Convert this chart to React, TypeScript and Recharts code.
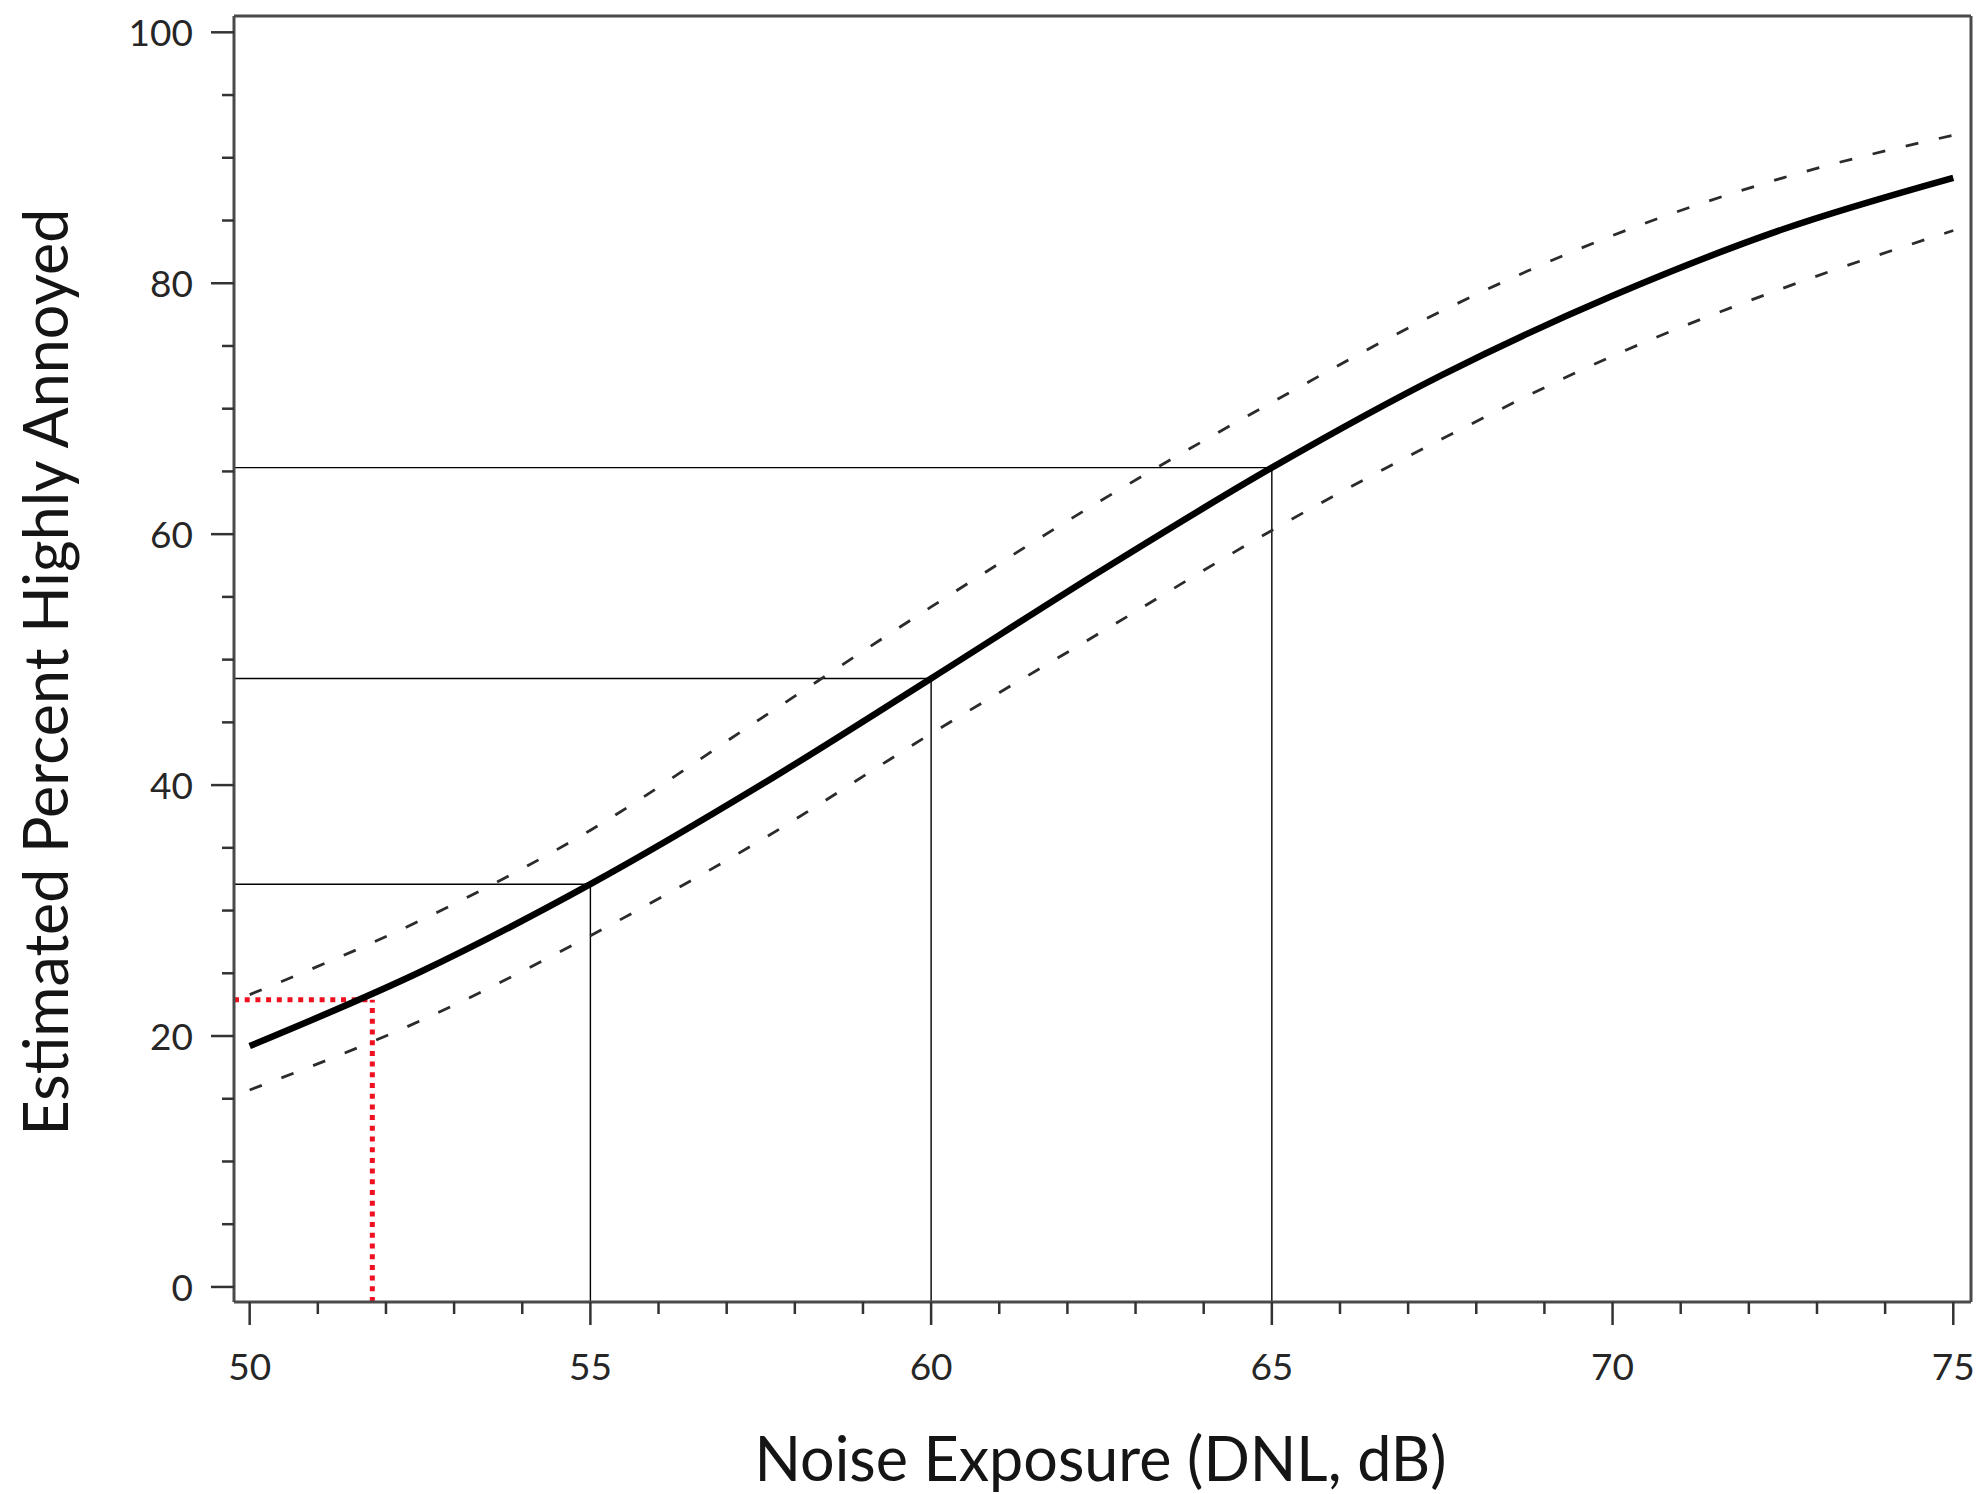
import React from 'react'
import { LineChart, Line, XAxis, YAxis, ReferenceLine, Label } from 'recharts'

// DNL (dB) sample points
const dnl = [50, 52.5, 55, 57.5, 60, 62.5, 65, 67.5, 70, 72.5, 75]
// estimated % highly annoyed (thick curve)
const estimate = [19.2, 25.1, 32.1, 40.0, 48.5, 57.1, 65.3, 72.7, 79.0, 84.3, 88.4]
// confidence band (dashed)
const upper = [23.3, 29.2, 36.4, 45.3, 54.2, 62.7, 70.5, 77.8, 83.8, 88.4, 91.8]
const lower = [15.7, 21.2, 28.0, 35.6, 44.1, 52.2, 60.3, 67.6, 74.2, 79.6, 84.2]

// drop lines from the curve to the axes
const markDnl = [55, 60, 65]
const markPct = [32.1, 48.5, 65.3]
const redDnl = 51.8
const redPct = 22.9

const xTicks = Array.from({ length: 26 }, (_, i) => 50 + i)
const yTicks = Array.from({ length: 21 }, (_, i) => i * 5)

const X_MIN = 49.77
const X_MAX = 75.26
const Y_MIN = -1.2
const Y_MAX = 101.3

const data = dnl.map((d, i) => ({
  dnl: d,
  estimate: estimate[i],
  upper: upper[i],
  lower: lower[i],
}))

const FONT = 'Lato, "Open Sans", sans-serif'
const AXIS = '#4a4a4a'

const XTick = (props: any) => {
  const { x, y, payload } = props
  const v = payload.value
  const major = v % 5 === 0
  return (
    <g>
      <line x1={x} x2={x} y1={y} y2={y + (major ? 23 : 12)} stroke="#333" strokeWidth={2.5} />
      {major && (
        <text x={x} y={y + 78} textAnchor="middle" fontFamily={FONT} fontSize={37} fill="#262626">
          {v}
        </text>
      )}
    </g>
  )
}

const YTick = (props: any) => {
  const { x, y, payload } = props
  const v = payload.value
  const major = v % 20 === 0
  return (
    <g>
      <line x1={x - (major ? 23 : 12)} x2={x} y1={y} y2={y} stroke="#333" strokeWidth={2.5} />
      {major && (
        <text x={x - 41} y={y + 14} textAnchor="end" fontFamily={FONT} fontSize={37} fill="#262626">
          {v}
        </text>
      )}
    </g>
  )
}

const YTitle = (props: any) => {
  const { viewBox } = props
  const cx = viewBox.x + 68
  const cy = viewBox.y + viewBox.height / 2 + 13
  return (
    <text
      x={cx}
      y={cy}
      transform={`rotate(-90, ${cx}, ${cy})`}
      textAnchor="middle"
      fontFamily={FONT}
      fontSize={61}
      fill="#151515"
    >
      Estimated Percent Highly Annoyed
    </text>
  )
}

const XTitle = (props: any) => {
  const { viewBox } = props
  const cx = viewBox.x + viewBox.width / 2 - 2
  const cy = viewBox.y + 179
  return (
    <text x={cx} y={cy} textAnchor="middle" fontFamily={FONT} fontSize={61} fill="#151515">
      Noise Exposure (DNL, dB)
    </text>
  )
}

export default function App() {
  return (
    <div style={{ position: 'absolute', left: 0, top: 0, background: '#fff' }}>
      <LineChart
        width={1979}
        height={1494}
        data={data}
        margin={{ top: 16, right: 8, bottom: 0, left: 0 }}
      >
        <XAxis
          dataKey="dnl"
          type="number"
          domain={[X_MIN, X_MAX]}
          allowDataOverflow
          ticks={xTicks}
          interval={0}
          height={192}
          tickLine={false}
          tickSize={0}
          tickMargin={0}
          axisLine={{ stroke: AXIS, strokeWidth: 3 }}
          tick={<XTick />}
        >
          <Label content={<XTitle />} />
        </XAxis>
        <YAxis
          type="number"
          domain={[Y_MIN, Y_MAX]}
          allowDataOverflow
          ticks={yTicks}
          interval={0}
          width={234}
          tickLine={false}
          tickSize={0}
          tickMargin={0}
          axisLine={{ stroke: AXIS, strokeWidth: 3 }}
          tick={<YTick />}
        >
          <Label content={<YTitle />} />
        </YAxis>

        {/* frame: top and right */}
        <ReferenceLine y={Y_MAX} stroke={AXIS} strokeWidth={3} ifOverflow="visible" />
        <ReferenceLine x={X_MAX} stroke={AXIS} strokeWidth={3} ifOverflow="visible" />

        {markDnl.map((d, i) => (
          <ReferenceLine
            key={'v' + d}
            segment={[
              { x: d, y: Y_MIN },
              { x: d, y: markPct[i] },
            ]}
            stroke="#000"
            strokeWidth={1.4}
            ifOverflow="visible"
          />
        ))}
        {markDnl.map((d, i) => (
          <ReferenceLine
            key={'h' + d}
            segment={[
              { x: X_MIN, y: markPct[i] },
              { x: d, y: markPct[i] },
            ]}
            stroke="#000"
            strokeWidth={1.4}
            ifOverflow="visible"
          />
        ))}
        <ReferenceLine
          segment={[
            { x: redDnl, y: Y_MIN },
            { x: redDnl, y: redPct },
          ]}
          stroke="#f01020"
          strokeWidth={5}
          strokeDasharray="5 5.7"
          ifOverflow="visible"
        />
        <ReferenceLine
          segment={[
            { x: X_MIN, y: redPct },
            { x: redDnl, y: redPct },
          ]}
          stroke="#f01020"
          strokeWidth={5}
          strokeDasharray="5 5.7"
          ifOverflow="visible"
        />

        <Line
          type="monotone"
          dataKey="upper"
          stroke="#2b2b2b"
          strokeWidth={2.8}
          strokeDasharray="13 21"
          dot={false}
          activeDot={false}
          isAnimationActive={false}
        />
        <Line
          type="monotone"
          dataKey="lower"
          stroke="#2b2b2b"
          strokeWidth={2.8}
          strokeDasharray="13 21"
          dot={false}
          activeDot={false}
          isAnimationActive={false}
        />
        <Line
          type="monotone"
          dataKey="estimate"
          stroke="#000"
          strokeWidth={6.5}
          dot={false}
          activeDot={false}
          isAnimationActive={false}
        />
      </LineChart>
    </div>
  )
}
